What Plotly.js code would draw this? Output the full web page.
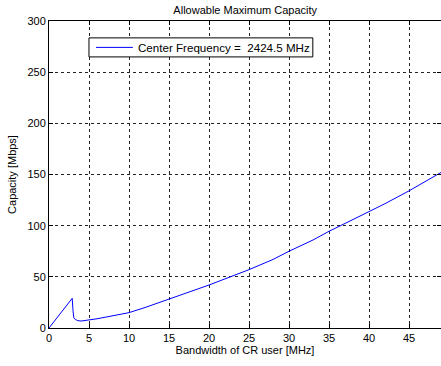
<!DOCTYPE html>
<html>
<head>
<meta charset="utf-8">
<script src="https://cdn.plot.ly/plotly-3.0.1.min.js"></script>
<style>html,body{margin:0;padding:0;background:#fff;}#chart{width:441px;height:366px;}</style>
</head>
<body>
<div id="chart"></div>
<script>
// Bandwidth of CR user [MHz]
const bandwidth = [0, 2.9, 3.0, 3.1, 3.3, 3.6, 4, 5, 6, 8, 10, 12, 15, 18, 20, 22, 25, 28, 30, 33, 35, 38, 40, 42, 45, 47, 49];
// Capacity [Mbps]
const capacity = [0, 29, 17, 10, 8.3, 7.2, 6.8, 7.8, 9, 12, 15, 20, 28, 36.5, 42, 48, 57, 67, 75, 86, 94.5, 106, 113.5, 121.5, 134, 143, 152];
const seriesName = 'Center Frequency =\u00a0 2424.5 MHz';
const xTicks = [0, 5, 10, 15, 20, 25, 30, 35, 40, 45];
const yTicks = [0, 50, 100, 150, 200, 250, 300];

const lineColor = '#0000ff';
const font = {family: 'Liberation Sans, Arial, sans-serif', size: 11, color: '#000'};
const axisCommon = {
  showline: true, linecolor: '#000', linewidth: 1, mirror: 'ticks',
  ticks: 'inside', ticklen: 4, tickcolor: '#000',
  showgrid: true, gridcolor: '#222', gridwidth: 1, griddash: '3px,3px',
  zeroline: false, tickfont: font
};
// Legend box (MATLAB-style, compact) drawn in paper coordinates
const legY = 0.914;
Plotly.newPlot('chart', [{
  x: bandwidth, y: capacity, type: 'scatter', mode: 'lines',
  name: seriesName, line: {color: lineColor, width: 1}
}], {
  width: 441, height: 366,
  margin: {l: 49, r: 0, t: 21, b: 38},
  paper_bgcolor: '#fff', plot_bgcolor: '#fff',
  font: font,
  title: {text: 'Allowable Maximum Capacity', font: font, x: 0.556, xanchor: 'center', y: 0.972, yanchor: 'middle'},
  xaxis: Object.assign({}, axisCommon, {range: [0, 49], tickvals: xTicks,
    title: {text: 'Bandwidth of CR user [MHz]', font: font, standoff: 3}}),
  yaxis: Object.assign({}, axisCommon, {range: [0, 300], tickvals: yTicks,
    title: {text: 'Capacity [Mbps]', font: font, standoff: 8}}),
  showlegend: false,
  shapes: [
    {type: 'rect', xref: 'paper', yref: 'paper', x0: 0.102, x1: 0.673, y0: 0.883, y1: 0.945,
      fillcolor: '#fff', line: {color: '#000', width: 1}, layer: 'above'},
    {type: 'line', xref: 'paper', yref: 'paper', x0: 0.120, x1: 0.214, y0: legY, y1: legY,
      line: {color: lineColor, width: 1}, layer: 'above'}
  ],
  annotations: [
    {xref: 'paper', yref: 'paper', x: 0.222, y: legY, xanchor: 'left', yanchor: 'middle',
      text: seriesName, showarrow: false, font: Object.assign({}, font, {size: 11.6})}
  ]
}, {staticPlot: true});
</script>
</body>
</html>
